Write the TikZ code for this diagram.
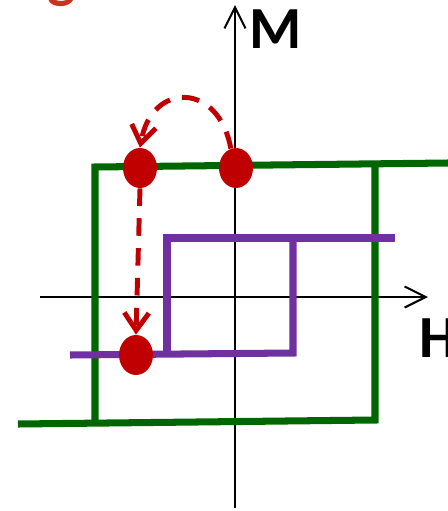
\documentclass[tikz,border=0pt]{standalone}
\usepackage{fontspec}
\setsansfont{Carlito}
\usepackage{tikz}
\usetikzlibrary{arrows.meta,shapes.geometric}
\definecolor{loopgreen}{RGB}{0,102,0}
\definecolor{looppurple}{RGB}{112,48,160}
\definecolor{dotred}{RGB}{192,0,0}
\definecolor{titlered}{RGB}{200,50,30}

\begin{document}
\begin{tikzpicture}[x=0.02cm,y=-0.02cm,>={Straight Barb[length=12pt,width=12pt]},
reddot/.style={ellipse,fill=dotred,minimum width=0.68cm,minimum height=0.8cm,inner sep=0pt},
jump/.style={dotred,line width=2.8pt,dash pattern=on 10pt off 7pt,-{Straight Barb[length=10pt,width=14pt]}},
axislabel/.style={inner sep=0pt,font=\fontsize{34}{34}\sffamily\bfseries}]
\useasboundingbox (0,0) rectangle (448,511);
% cut title
\node[anchor=base,inner sep=0pt,text=titlered,font=\fontsize{34}{34}\sffamily\bfseries] (title) at (62,-4) {g};
% axes
\draw[->,line width=1.2pt](235,508)--(235,5);
\draw[->,line width=1.2pt](40,297)--(428,297);
\node[axislabel] (M) at (276,29) {M};
\node[axislabel,anchor=west] (H) at (419,338) {H};
% outer loop
\draw[loopgreen,line width=4pt](448,163)--(95,167)--(95,422);
\draw[loopgreen,line width=4pt](18,424)--(375,420)--(375,166);
% inner loop
\draw[looppurple,line width=4pt](395,238)--(167,238)--(167,353);
\draw[looppurple,line width=4pt](70,355)--(293,353)--(293,238);
% states
\node[reddot] (a) at (140,168) {};
\node[reddot] (b) at (236,168) {};
\node[reddot] (c) at (136,355) {};
\draw[jump](b.105) to[out=100,in=80,looseness=1.9,shorten <=6pt] (a.north);
\draw[jump](a.south)--(c.north);
\end{tikzpicture}
\end{document}
